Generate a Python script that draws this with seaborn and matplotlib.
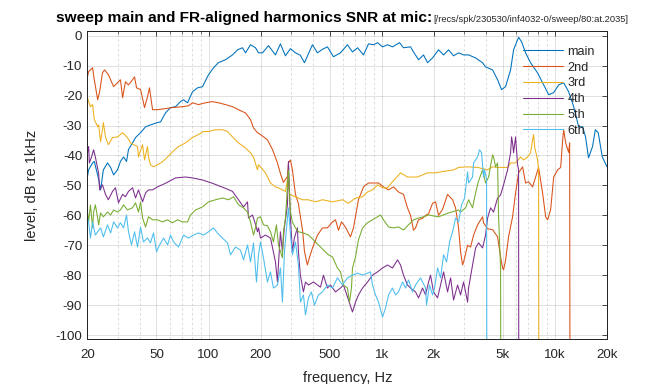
import numpy as np
import pandas as pd
import matplotlib
matplotlib.use("Agg")
import matplotlib.pyplot as plt
import seaborn as sns
from matplotlib.lines import Line2D
from matplotlib.ticker import FixedLocator, FixedFormatter, NullFormatter
from matplotlib.offsetbox import TextArea, HPacker, AnchoredOffsetbox

# ---------------- data ----------------
main_f = [20, 20.3, 21.4, 21.9, 23.2, 23.8, 24.7, 26.1, 27.2, 28.3, 29.8, 31.0, 32.3, 33.6, 34.5,
          36.4, 37.9, 40.5, 43.3, 46.2, 50.7, 52.8, 56.4, 60.3, 64.5, 68.9, 71.7, 75.6, 80.8, 86.4,
          92.3, 100, 106.8, 114, 125.3, 137.5, 147, 157, 163.5, 174.7, 186.7, 194.3, 204.9, 221.9,
          243.5, 260, 278, 297, 317.6, 339, 358, 398, 425.6, 455, 486, 526.5, 578, 634, 678, 725,
          785, 839, 897, 946, 1011, 1080, 1154, 1267, 1336, 1467, 1526, 1632, 1744, 1839, 1966,
          2129, 2276, 2433, 2600, 2779, 2970, 3174, 3484, 3823, 3979, 4367, 4667, 4922, 5191, 5548,
          5774, 6170, 6421, 6772, 7238, 7944, 8490, 9206, 9840, 10520, 11240, 12010, 12840, 13710,
          14470, 15030, 15640, 16500, 17120, 17800, 18760, 20000]
main_db = [-47, -44.8, -42.5, -42, -48, -51.5, -44.8, -42.5, -44, -46.5, -44.8, -42, -40.5, -42, -38,
           -35.8, -34, -32.4, -30.4, -29.8, -29, -28.8, -25.8, -24, -23.7, -22, -21.4, -22.4, -18.7, -17.4,
           -17, -13, -10.7, -9, -8, -6.4, -4.7, -4, -5.7, -3, -4, -5.7, -5.7, -3.3,
           -6.4, -2.7, -6.7, -4.3, -5.7, -6.5, -9, -3, -5.7, -4.5, -3.7, -7, -5.7, -3, -5.4, -4,
           -6.4, -2.7, -3, -2.3, -3.7, -3, -3.7, -2.3, -4, -3.7, -5.4, -8, -6.4, -9, -7.4,
           -4.7, -6.4, -4.7, -6.7, -5.7, -6.4, -6.4, -7.4, -9, -10.4, -11.4, -14.7, -18, -17, -11.4,
           -4.7, -0.5, -2, -5.7, -9, -12.4, -15.7, -19.7, -19, -16.4, -15.7, -18.7, -23.7, -30.4,
           -30.4, -33.8, -40.8, -37, -31.4, -32.4, -40.4, -43.8]

h2_f = [20, 20.3, 21.4, 21.9, 22.9, 23.5, 24.4, 25.1, 26.4, 28.3, 29.8, 31.0, 31.9, 33.1, 34.5,
        36.4, 37.4, 38.4, 40.5, 42.7, 44.4, 45.6, 47.5, 50.7, 61.9, 70.8, 76.6, 80.8, 87.5, 96,
        105.4, 114.1, 125.3, 137.5, 148.9, 163.5, 174.7, 181.8, 191.7, 199.5, 218.9, 234, 250, 260,
        270.8, 285.6, 289.4, 297, 305, 317.6, 330, 349, 358, 372, 383, 398, 426, 455, 486, 520,
        541, 563, 586, 618, 660, 687, 734, 785, 839, 897, 958, 1024, 1095, 1170, 1250, 1336, 1409,
        1467, 1526, 1568, 1632, 1721, 1791, 1864, 1966, 2046, 2129, 2246, 2400, 2566, 2670, 2779,
        2854, 2930, 2970, 3132, 3260, 3392, 3577, 3823, 3874, 4086, 4367, 4667, 4857, 4988, 5055,
        5191, 5402, 5697, 5929, 6170, 6507, 6772, 7048, 7433, 7735, 8050, 8490, 8846, 9085, 9455,
        9840, 10380, 10800, 11090, 11240, 11540, 12010, 12170, 12330]
h2_db = [-13.7, -12, -10.7, -14.7, -21.4, -18.7, -12.4, -11.4, -13, -17, -15.7, -14.7, -20.7, -15.4, -16.4,
         -14.7, -13.7, -17.4, -18, -24, -20.4, -17.4, -24.7, -24.7, -24, -23.7, -23.4, -22.4, -23, -22.4,
         -22, -22.4, -23, -23.7, -24.7, -25.8, -28, -30.8, -32.4, -33, -34.8, -38, -42.5, -46,
         -49, -47, -42.5, -41.5, -44.8, -53, -56, -65, -72, -76.6, -74, -71, -66.6, -64.2, -64.2, -62.2,
         -61.5, -65, -62.2, -64, -67.2, -64.2, -54.8, -50.5, -49.2, -49.2, -49.2, -50.5, -51.5, -50.5, -52.2, -53, -57.5,
         -60, -65, -64.2, -61.5, -61, -60, -59.5, -56, -55.5, -60, -58, -53, -54.8, -57.5, -64.2,
         -72.2, -76.6, -75.6, -70, -70.6, -66.6, -63.2, -60.5, -62.5, -64.5, -64.8, -67.2, -73.9, -77.6, -78.2,
         -75, -67.2, -60.5, -52.5, -45.8, -43.8, -49.2, -48.8, -50.5, -47.2, -44, -52.5, -60.5, -61.5, -58,
         -47.2, -44.8, -44, -34.8, -31.4, -35.8, -39, -35.8, -300]

h3_f = [20, 20.3, 20.8, 21.4, 21.9, 22.9, 23.2, 23.8, 24.4, 24.7, 25.4, 26.4, 27.9, 29.8, 31.9,
        34.0, 35.4, 36.9, 38.9, 39.4, 41.6, 42.7, 44.4, 45.0, 46.2, 48.1, 50.7, 54.2, 58.0, 61.9,
        67.1, 73.6, 80.8, 87.5, 93.5, 100, 109.7, 120.3, 128.7, 137.5, 148.9, 163.5, 174.7, 181.8,
        191.7, 194.3, 199.5, 213, 228, 243.5, 253, 278, 285.6, 289.4, 293, 349, 377, 414, 455,
        520, 594, 643, 706, 775, 828, 885, 946, 1011, 1080, 1154, 1284, 1409, 1610, 1839, 2046,
        2187, 2600, 2779, 3132, 3577, 4086, 4367, 4667, 4988, 5331, 5548, 5929, 6337, 6595, 6955,
        7238, 7433, 7532, 7633, 7944, 8050, 8150]
h3_db = [-20.7, -22, -23.7, -23, -28, -30.4, -29.8, -35.4, -31.4, -29, -33.8, -36.4, -34, -33.8, -32.4,
         -34, -35.8, -36.4, -37, -40.5, -36.4, -41.5, -37, -40.5, -43.1, -43.8, -43.1, -42.1, -40.5, -38.8,
         -37, -35.8, -34, -33, -32, -32, -31.4, -31.4, -32, -33.8, -35.8, -37.5, -39.1, -40.5,
         -44.8, -43.1, -43.8, -45.8, -49.2, -50.5, -50.8, -52, -48, -46, -53, -54.8, -54.8, -55.5, -54.8,
         -55.5, -54.8, -56, -54.2, -53.8, -52.2, -51.5, -49.8, -50.8, -50.8, -48.8, -45.8, -47.2, -47.2, -45.8, -45.8,
         -45.5, -44.8, -44, -43.8, -44, -44.8, -43.8, -44, -44, -44, -42.5, -42.5, -40.5, -41.5, -40.5,
         -39.1, -34.8, -33, -37, -41.5, -44.8, -300]

h4_f = [20, 20.3, 20.5, 21.1, 21.7, 22.2, 23.2, 23.5, 24.4, 25.4, 26.4, 27.9, 29.0, 30.2, 31.9,
        33.1, 34.5, 36.4, 37.9, 39.4, 41.6, 43.3, 45.0, 47.5, 50.7, 56.4, 64.5, 73.6, 80.8, 92.3,
        105.4, 125.3, 137.5, 148.9, 159.2, 167.9, 170.1, 179.4, 186.7, 191.7, 194.3, 199.5, 213, 228,
        243.5, 250, 260, 267, 274, 285.6, 289.4, 297, 305, 313, 326, 330.5, 339, 353, 363, 377.5,
        403.5, 425.6, 443, 461, 486, 506, 541, 578, 601.5, 643, 678, 706, 734, 775, 828, 885, 946,
        1011, 1080, 1154, 1234, 1284, 1336, 1409, 1467, 1568, 1632, 1721, 1791, 1864, 1914, 1992,
        2101, 2187, 2276, 2400, 2498, 2600, 2742, 2854, 2970, 3132, 3174, 3347, 3484, 3625, 3823,
        3979, 4086, 4252, 4425, 4667, 4857, 5055, 5331, 5548, 5622, 5697, 5774, 5929, 6089, 6170, 6230]
h4_db = [-39, -37, -42.5, -40.5, -38.1, -40.5, -46, -51.5, -49.8, -53, -54.8, -52, -50.8, -55.8, -53,
         -53.8, -52, -50.8, -54.2, -51.5, -55.5, -52.5, -51.5, -51.5, -50.5, -49.3, -47.5, -47.2, -47.5, -48.2,
         -49.3, -51, -52, -54.8, -57.2, -55.5, -60.9, -59.9, -63, -65.5, -64.2, -67.6, -66.6, -67.6,
         -75.6, -82.3, -65.5, -72.2, -64.2, -56.5, -42, -60.9, -72.2, -67.6, -64.2, -72.2, -80, -85.6, -82.3, -83.3,
         -82.3, -83.3, -84, -80, -84.3, -83.3, -85.6, -84.3, -83.3, -88.3, -92.3, -89, -86.6, -84.3, -82.3, -80, -78.9,
         -77.6, -76.6, -77.6, -74.9, -76.6, -80, -83.3, -84.3, -85.6, -87.6, -84.3, -86.6, -82.3, -80, -85.6,
         -87.6, -83.3, -78.9, -85.6, -80.9, -88.3, -83.3, -86.6, -82.3, -89, -84.3, -76.6, -70.9, -69.2, -70.9,
         -66.6, -60.9, -57.5, -58.9, -54.2, -53.2, -49.8, -44.8, -39.1, -33.8, -35.8, -39.1, -33.8, -43, -44.8, -300]

h5_f = [20, 20.0, 20.3, 20.8, 21.4, 21.7, 22.2, 22.9, 23.2, 23.8, 24.7, 26.1, 27.2, 28.3, 29.8,
        31.0, 32.3, 34.0, 36.4, 37.9, 39.4, 40.5, 41.6, 43.3, 45.0, 47.5, 50.7, 54.2, 58.0, 61.9,
        66.2, 70.8, 75.6, 78.7, 84.1, 92.3, 100, 109.7, 120.3, 130.4, 139.4, 148.9, 159.2, 167.9,
        174.7, 181.8, 186.7, 191.7, 199.5, 207.6, 218.9, 228, 237, 246.7, 253.4, 267, 270.8, 278.1,
        289.4, 297, 305, 317.6, 330.5, 353, 377.5, 403.5, 431, 461, 492.6, 519.6, 555, 578, 601.5,
        634, 651.5, 669, 678, 706, 734, 775, 828, 885, 946, 984, 1024, 1095, 1170, 1250, 1336, 1428,
        1526, 1632, 1744, 1864, 2129, 2433, 2779, 2854, 3050, 3174, 3347, 3484, 3625, 3823, 3979,
        4141, 4367, 4425, 4545, 4667, 4730, 4857, 4950]
h5_db = [-55.5, -58.9, -62.2, -56.5, -64.2, -58.9, -56.5, -60.9, -63.2, -59.2, -60.5, -58.9, -59.9, -58.2, -58.9,
         -58.2, -56.5, -58.2, -57.5, -55.8, -58.9, -55.5, -60.9, -63.9, -60.5, -61.5, -61.5, -62.2, -61.5, -62.5,
         -61.5, -62.2, -62.2, -59.9, -58.2, -57.2, -55.5, -54.8, -54.2, -54.8, -53.8, -56.5, -57.5, -58.9,
         -62.2, -66.6, -64.2, -60.9, -60.5, -63.2, -63.5, -65.5, -68.9, -63.2, -69.9, -74.2, -65.5, -60.9,
         -45, -58.9, -62.2, -64.2, -65.5, -65.9, -66.6, -68.2, -69.9, -71.6, -73.2, -73.9, -77.6, -78.9, -83.3,
         -84.3, -89, -84.3, -77.6, -73.9, -68.2, -64.2, -62.5, -61.5, -60.5, -59.9, -61.5, -63.9, -64.2, -63.9, -64.9, -63.2,
         -61.5, -60.9, -60.5, -59.9, -60.5, -59.2, -58.2, -58.9, -57.5, -54.8, -57.5, -52.5, -48.5, -44.8, -49.2,
         -47.2, -39.8, -40.5, -43.8, -42.5, -60.5, -77.3, -300]

h6_f = [20, 20.3, 20.8, 21.4, 22.2, 22.9, 23.8, 24.7, 26.1, 27.2, 28.3, 29.8, 31.0, 32.3, 33.6,
        34.5, 35.9, 37.4, 38.9, 40.5, 42.1, 44.4, 46.2, 48.1, 50.1, 51.4, 55.0, 58.0, 60.3, 62.8,
        67.1, 71.7, 76.6, 81.9, 87.5, 93.5, 100, 106.8, 112.6, 120.3, 128.7, 133.9, 143.1, 152.9,
        159.2, 167.9, 174.7, 181.8, 189.2, 194.3, 199.5, 207.6, 218.9, 227.8, 237.1, 250, 260.2,
        267.2, 274.4, 285.6, 289.4, 297.2, 305.2, 317.6, 330.5, 339.4, 353.2, 362.8, 377.5, 392.9,
        408.9, 431.3, 454.9, 486.1, 519.6, 555.3, 593.5, 634.4, 678, 725, 775, 828, 861.5, 884.8,
        920.9, 958.4, 1011, 1052, 1095, 1154, 1201, 1250, 1319, 1372, 1428, 1506, 1568, 1676, 1791,
        1815, 1889, 1966, 2019, 2101, 2187, 2276, 2369, 2465, 2566, 2670, 2779, 2892, 3010, 3132,
        3174, 3347, 3392, 3577, 3674, 3773, 3874, 3926, 4032, 4086]
h6_db = [-60.9, -62.2, -67.6, -62.2, -66.6, -65.5, -64.2, -67.2, -63.2, -65.9, -62.2, -64.2, -62.5, -64.2, -59.9,
         -65.5, -69.9, -65.5, -70.6, -63.9, -68.9, -67.6, -69.2, -65.9, -72.2, -70.6, -67.6, -69.9, -66.6, -68.9,
         -70.6, -66.6, -67.6, -66.6, -65.9, -66.6, -65.5, -64.2, -65.9, -67.6, -69.2, -73.2, -70.6, -71.6,
         -74.9, -69.9, -75.6, -69.2, -82.3, -73.2, -68.9, -74.2, -82.3, -78.9, -84.3, -83.3, -77.6,
         -89, -72.2, -60.9, -57.5, -66.6, -73.2, -68.9, -76.6, -89, -86.6, -93.3, -87.6, -85.6,
         -90, -86.6, -85.6, -83.3, -84.3, -80.9, -83.3, -80.9, -80, -79.3, -80, -79.3, -78.9, -83.3,
         -86.6, -89, -94, -91, -86.6, -84.3, -86.6, -85.6, -82.3, -84.3, -81.6, -85.6, -83.3, -80.9, -84.3,
         -90, -83.3, -86.6, -84.3, -77.6, -80.9, -73.2, -75.6, -68.9, -65.5, -60.9, -62.2, -56.5, -54.2, -45.5,
         -49.2, -47.2, -42.5, -40.5, -38.1, -39.1, -47.2, -44.8, -48, -300]

series_names = ["main", "2nd", "3rd", "4th", "5th", "6th"]
series_f = [main_f, h2_f, h3_f, h4_f, h5_f, h6_f]
series_db = [main_db, h2_db, h3_db, h4_db, h5_db, h6_db]
colors = ["#0072BD", "#D95319", "#EDB120", "#7E2F8E", "#77AC30", "#4DBEEE"]

xticks = [20, 50, 100, 200, 500, 1000, 2000, 5000, 10000, 20000]
xticklabels = ["20", "50", "100", "200", "500", "1k", "2k", "5k", "10k", "20k"]
xminor = [30, 40, 60, 70, 80, 90, 300, 400, 600, 700, 800, 900,
          3000, 4000, 6000, 7000, 8000, 9000]
yticks = list(range(-100, 1, 10))

title_main = "sweep main and FR-aligned harmonics SNR at mic:"
title_path = "[/recs/spk/230530/inf4032-0/sweep/80:at.2035]"

# ---------------- plotting ----------------
sns.set_theme(style="white")
plt.rcParams["font.family"] = ["Liberation Sans", "DejaVu Sans"]
plt.rcParams["axes.unicode_minus"] = False

fig = plt.figure(figsize=(7.0, 4.0), dpi=96)
ax = fig.add_axes([0.1302, 0.1159, 0.7731, 0.8034])

for name, f, d, c in zip(series_names, series_f, series_db, colors):
    sub = pd.DataFrame({"freq": f, "level": d})
    sns.lineplot(data=sub, x="freq", y="level", color=c, estimator=None, sort=False,
                 linewidth=0.8, legend=False, ax=ax)

ax.set_xscale("log")
ax.set_xlim(20, 20000)
ax.set_ylim(-101.5, 1.6)

ax.xaxis.set_major_locator(FixedLocator(xticks))
ax.xaxis.set_major_formatter(FixedFormatter(xticklabels))
ax.xaxis.set_minor_locator(FixedLocator(xminor))
ax.xaxis.set_minor_formatter(NullFormatter())
ax.yaxis.set_major_locator(FixedLocator(yticks))
ax.yaxis.set_major_formatter(FixedFormatter([str(v) for v in yticks]))

ax.grid(True, which="major", color="#262626", alpha=0.15, linewidth=0.7, linestyle="-")
ax.grid(True, which="minor", axis="x", color="#262626", alpha=0.2, linewidth=0.6,
        linestyle=(0, (3, 3)))
ax.set_axisbelow(True)

for s in ax.spines.values():
    s.set_color("#262626")
    s.set_linewidth(0.75)
ax.tick_params(which="both", direction="in", top=True, right=True, color="#262626",
               labelcolor="#262626", labelsize=10)
ax.tick_params(axis="x", which="major", length=4, width=0.6, pad=7)
ax.tick_params(axis="y", which="major", length=4, width=0.6, pad=4)
ax.tick_params(which="minor", length=2.5, width=0.5)

ax.set_xlabel("frequency, Hz", fontsize=11, color="#262626", labelpad=8)
ax.set_ylabel("level, dB re 1kHz", fontsize=11, color="#262626", labelpad=12)

handles = [Line2D([], [], color=c, linewidth=0.8) for c in colors]
ax.legend(handles, series_names, loc="upper left",
          bbox_to_anchor=(0.838, 0.952), frameon=False, fontsize=9.5,
          handlelength=3.2, handletextpad=0.3, labelspacing=0.3,
          borderaxespad=0, borderpad=0)

t1 = TextArea(title_main, textprops=dict(fontsize=11.5, fontweight="bold", color="black"))
t2 = TextArea(title_path, textprops=dict(fontsize=7, color="#262626"))
pack = HPacker(children=[t1, t2], align="baseline", pad=0, sep=1)
box = AnchoredOffsetbox(loc="lower center", child=pack, frameon=False, pad=0, borderpad=0,
                        bbox_to_anchor=(0.49, 1.018), bbox_transform=ax.transAxes)
ax.add_artist(box)

fig.savefig("out.png", dpi=96)
